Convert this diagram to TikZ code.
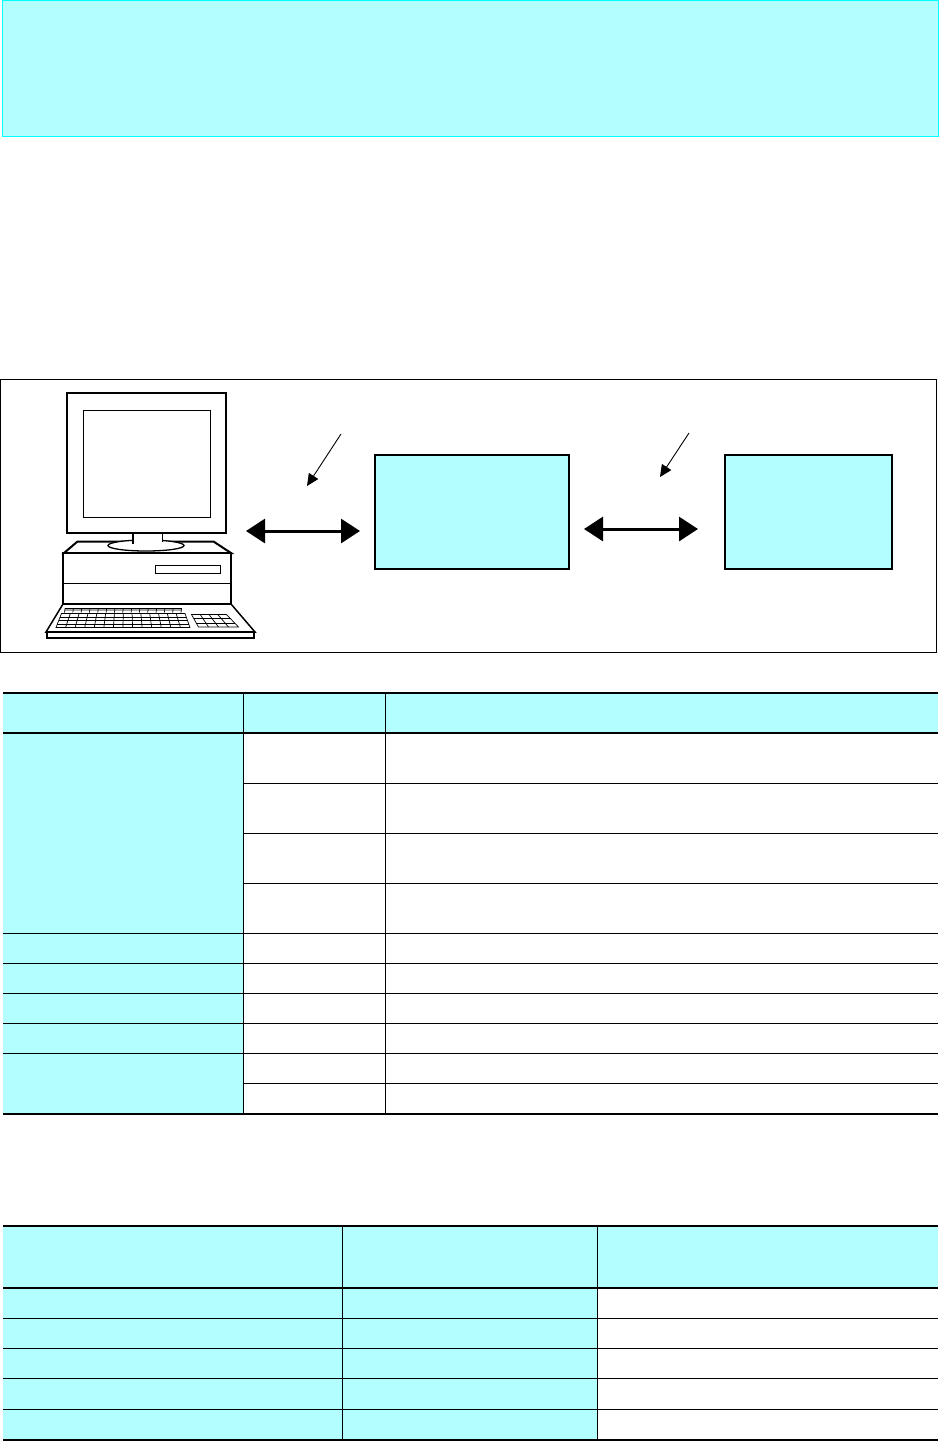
\documentclass[tikz,border=0pt]{standalone}
\usepackage{xcolor}
\usepackage{tikz}
\usetikzlibrary{arrows.meta, positioning, calc}
\definecolor{cellcyan}{RGB}{179,255,255}
\definecolor{edgecyan}{RGB}{0,255,255}

\begin{document}
\begin{tikzpicture}[
      x=1pt, y=-1pt,
      banner/.style={rectangle, draw=edgecyan, fill=cellcyan, line width=1pt, inner sep=0pt,
        minimum width=936pt, minimum height=135.5pt},
      frame/.style={rectangle, draw=black, line width=1pt, inner sep=0pt,
        minimum width=936pt, minimum height=273pt},
      hub/.style={rectangle, draw=black, fill=cellcyan, line width=2pt, inner sep=0pt,
        minimum height=114pt},
      shell/.style={draw=black, fill=white, line width=2pt},
      part/.style={draw=black, fill=white, line width=1pt},
      keys/.style={draw=black, line width=0.7pt},
      link/.style={{Triangle[length=19pt,width=24pt]}-{Triangle[length=19pt,width=24pt]}, line width=3pt},
      pointer/.style={-{Triangle[length=12pt,width=11pt]}, line width=0.9pt},
      rulethin/.style={draw=black, line width=1pt},
      rulethick/.style={draw=black, line width=2pt},
      cell/.style={fill=cellcyan, draw=none}
    ]
      \useasboundingbox (0,0) rectangle (939,1441);
      \node[banner] (top) at (470,68.5) {};
      \node[frame] (diagram) at (468.5,516) {};

      % computer
      \draw[shell] (64,553) -- (77.5,541.5) -- (213.5,541.5) -- (231,553) -- cycle;
      \draw[part, line width=1.3pt] (146,545.5) ellipse (38 and 5.5);
      \fill[white] (133,532) rectangle (163,546);
      \draw[line width=2pt] (133,533) -- (133,544);
      \draw[line width=1pt] (162.5,533) -- (162.5,542);
      \node[shell, rectangle, inner sep=0pt, minimum width=159.5pt, minimum height=140.5pt] (monitor) at (146.5,463) {};
      \node[part, rectangle, inner sep=0pt, minimum width=127.5pt, minimum height=107.5pt] (screen) at (147,464) {};
      \node[shell, rectangle, inner sep=0pt, minimum width=167.5pt, minimum height=51pt] (case) at (147.2,578.5) {};
      \draw[line width=1pt] (case.west |- 0,583.5) -- (case.east |- 0,583.5);
      \node[part, rectangle, inner sep=0pt, minimum width=65.5pt, minimum height=8.5pt] (slot) at (188,569.5) {};
      \draw[shell, line width=1.5pt] (63,604) -- (46,632) -- (255,632) -- (231,604) -- cycle;
      \draw[shell] (47,632) rectangle (254,637.5);
      \fill[gray!70] (65,608.5) rectangle (181.5,611);
      \foreach \k in {0,...,14} \draw[keys] ({65+\k*116.5/14},608.5) -- ({64.5+\k*116.5/14},612.5);
      \draw[keys] (65,608.5) -- (181.5,608.5);
      \draw[keys] (61.5,613.5) -- (185,613.5) -- (190,627.5) -- (56,627.5) -- cycle;
      \foreach \r in {1,2,3} \draw[keys] ({61.5-5.5*\r/4},{613.5+\r*3.5}) -- ({185+5*\r/4},{613.5+\r*3.5});
      \foreach \k in {1,...,13} \draw[keys] ({61.5+\k*123.5/14},613.5) -- ({56+\k*134/14},627.5);
      \draw[keys] (191.5,614.5) -- (226.5,614.5) -- (238.5,627) -- (198.5,627) -- cycle;
      \foreach \r in {1,2} \draw[keys] ({191.5+7*\r/3},{614.5+\r*4.2}) -- ({226.5+12*\r/3},{614.5+\r*4.2});
      \foreach \k in {1,2,3} \draw[keys] ({191.5+\k*35/4},614.5) -- ({198.5+\k*40/4},627);

      % boxes and connectors
      \node[hub, minimum width=194.5pt] (boxa) at (472.2,512) {};
      \node[hub, minimum width=167pt] (boxb) at (808.5,512) {};
      \coordinate (la) at (246,531);
      \coordinate (ra) at (360,531);
      \coordinate (lb) at (584,529);
      \coordinate (rb) at (698,529);
      \coordinate (fa) at (341,434);
      \coordinate (ta) at (307,486);
      \coordinate (fb) at (689,433);
      \coordinate (tb) at (660,477);
      \draw[link] (la) -- (ra);
      \draw[link] (lb) -- (rb);
      \draw[pointer] (fa) -- (ta);
      \draw[pointer] (fb) -- (tb);

      % first table
      \fill[cell] (3,693) rectangle (938,733);
      \fill[cell] (3,733) rectangle (243.5,1113.5);
      \foreach \y in {783.5,833.5,883.5,1083.5} \draw[rulethin] (243.5,\y) -- (938,\y);
      \foreach \y in {933.5,963.5,993.5,1023.5,1053.5} \draw[rulethin] (3,\y) -- (938,\y);
      \foreach \x in {243.5,385.5} \draw[rulethin] (\x,693) -- (\x,1113.5);
      \foreach \y in {693,733,1113.5} \draw[rulethick] (3,\y) -- (938,\y);

      % second table
      \fill[cell] (3,1226) rectangle (938,1288);
      \fill[cell] (3,1288) rectangle (597.5,1440);
      \foreach \y in {1318.5,1348.5,1378.5,1409.5} \draw[rulethin] (3,\y) -- (938,\y);
      \foreach \x in {342.5,597.5} \draw[rulethin] (\x,1226) -- (\x,1440);
      \foreach \y in {1226,1287.5,1440} \draw[rulethick] (3,\y) -- (938,\y);
    \end{tikzpicture}
\end{document}
